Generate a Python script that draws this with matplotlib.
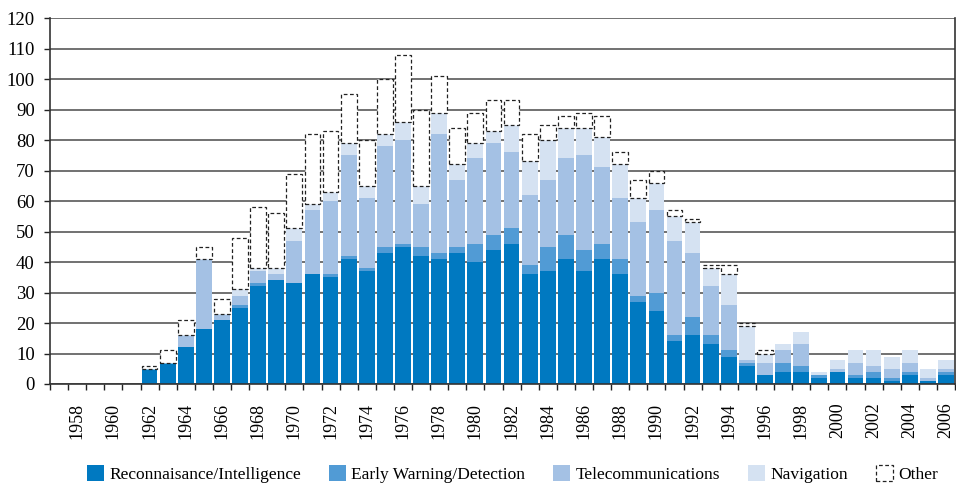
import numpy as np
import matplotlib
matplotlib.use("Agg")
import matplotlib.pyplot as plt
from matplotlib.patches import Patch

# ── data (launches per year, 1957-2006) ───────────────────
years = list(range(1957, 2007))

recon = [0, 0, 0, 0, 0, 5, 7, 12, 18, 21,
         25, 32, 34, 33, 36, 35, 41, 37, 43, 45,
         42, 41, 43, 40, 44, 46, 36, 37, 41, 37,
         41, 36, 27, 24, 14, 16, 13, 9, 6, 3,
         4, 4, 2, 4, 2, 2, 1, 3, 1, 3]

early_warning = [0, 0, 0, 0, 0, 0, 0, 0, 0, 0,
                 1, 1, 0, 0, 0, 1, 1, 1, 2, 1,
                 3, 2, 2, 6, 5, 5, 3, 8, 8, 7,
                 5, 5, 2, 6, 2, 6, 3, 2, 1, 0,
                 3, 2, 1, 0, 1, 2, 1, 1, 0, 1]

telecom = [0, 0, 0, 0, 0, 0, 0, 4, 23, 2,
           3, 4, 2, 14, 21, 24, 33, 23, 33, 34,
           14, 39, 22, 28, 30, 25, 23, 22, 25, 31,
           25, 20, 24, 27, 31, 21, 16, 15, 1, 4,
           4, 7, 0, 1, 4, 2, 3, 3, 1, 1]

navigation = [0, 0, 0, 0, 0, 0, 0, 0, 0, 0,
              2, 1, 2, 4, 2, 3, 4, 4, 4, 6,
              6, 7, 5, 5, 4, 9, 11, 13, 10, 9,
              10, 11, 8, 9, 8, 10, 6, 10, 11, 3,
              2, 4, 1, 3, 4, 5, 4, 4, 3, 3]

other = [0, 0, 0, 0, 0, 1, 4, 5, 4, 5,
         17, 20, 18, 18, 23, 20, 16, 15, 18, 22,
         25, 12, 12, 10, 10, 8, 9, 5, 4, 5,
         7, 4, 6, 4, 2, 1, 1, 3, 1, 1,
         0, 0, 0, 0, 0, 0, 0, 0, 0, 0]

series_names = ["Reconnaisance/Intelligence", "Early Warning/Detection",
                "Telecommunications", "Navigation"]
colors = ["#0079c1", "#519bd5", "#a4c1e4", "#d5e2f2"]

# ── figure ────────────────────────────────────────────────
plt.rcParams['font.family'] = ['Liberation Serif', 'DejaVu Serif']

fig = plt.figure(figsize=(9.56, 4.87), dpi=100)
ax = fig.add_axes([0.0523, 0.2115, 0.9467, 0.7515])

x = np.arange(len(years))
width = 0.87
bottom = np.zeros(len(years))
for name, vals, col in zip(series_names,
                           [recon, early_warning, telecom, navigation], colors):
    vals = np.array(vals, dtype=float)
    ax.bar(x, vals, width, bottom=bottom, color=col, linewidth=0, zorder=2)
    bottom += vals

# "Other" as dashed open boxes on top (only years that have some)
other = np.array(other, dtype=float)
has_other = other > 0
ax.bar(x[has_other], other[has_other], width, bottom=bottom[has_other],
       facecolor="white", edgecolor="#222222",
       linestyle=(0, (3, 2)), linewidth=0.9, zorder=3)

# ── axes styling ──────────────────────────────────────────
ax.set_xlim(-0.5, len(years) - 0.5)
ax.set_ylim(0, 120)
ax.set_yticks(range(0, 121, 10))
ax.yaxis.grid(True, color="#4a4a4a", linewidth=1.1, zorder=0)
ax.set_axisbelow(True)

lab_idx = [i for i, y in enumerate(years) if y % 2 == 0]
ax.set_xticks(lab_idx)
ax.set_xticklabels([str(years[i]) for i in lab_idx], rotation=90, va="top")
ax.tick_params(axis="x", which="major", length=0, pad=13.5, labelsize=13)
ax.set_xticks(np.arange(-0.5, len(years), 1.0), minor=True)
ax.tick_params(axis="x", which="minor", length=4, width=1.0, color="#222222")
ax.tick_params(axis="y", length=4, width=1.0, pad=7, labelsize=13.5,
               color="#222222")

for side in ["left", "right", "bottom"]:
    ax.spines[side].set_color("#333333")
    ax.spines[side].set_linewidth(1.2)
ax.spines["top"].set_visible(False)

# ── legend ────────────────────────────────────────────────
handles = [Patch(facecolor=c, edgecolor="none", label=n)
           for n, c in zip(series_names, colors)]
handles.append(Patch(facecolor="white", edgecolor="#222222",
                     linestyle=(0, (3, 2)), linewidth=0.9, label="Other"))
fig.legend(handles=handles, loc="center", bbox_to_anchor=(0.536, 0.027),
           ncol=5, frameon=False, fontsize=12.5, handlelength=1.0,
           handleheight=1.0, handletextpad=0.3, columnspacing=1.6)

fig.savefig("out.png", dpi=100)
